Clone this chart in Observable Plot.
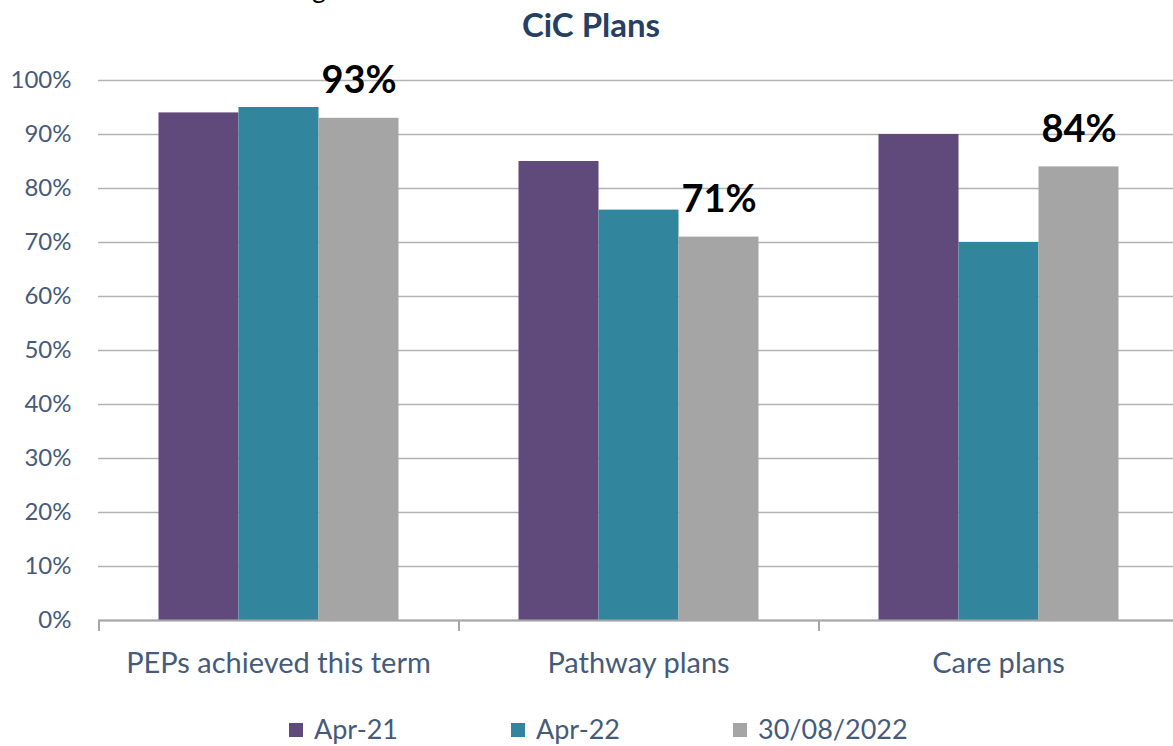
<!DOCTYPE html>
<html>
<head>
<meta charset="utf-8">
<script src="https://cdn.jsdelivr.net/npm/d3@7"></script>
<script src="https://cdn.jsdelivr.net/npm/@observablehq/plot@0.6"></script>
<style>
  html, body { margin: 0; padding: 0; background: #fff; }
  body { position: relative; width: 1173px; height: 746px; overflow: hidden; font-family: Lato, "Open Sans", sans-serif; }
  #frag { position: absolute; left: 312px; top: -26px; font-size: 27px; line-height: 27px; color: #000; }
  #title { position: relative; height: 48px; }
  #title span { position: absolute; left: 0; width: 1182px; text-align: center; font-size: 33px; line-height: 48px; font-weight: bold; color: #263F62; }
  #legend { position: relative; height: 42px; padding-top: 4px; }
  .item { position: absolute; top: 4px; height: 42px; line-height: 42px; font-size: 27px; color: #465B7A; white-space: nowrap; }
  .sw { position: absolute; left: 0; top: 15px; width: 14px; height: 14px; }
  .lab { position: absolute; left: 25px; top: 0; }
</style>
</head>
<body>
<div id="title"><span>CiC Plans</span></div>
<div id="chart"></div>
<div id="legend"></div>
<div id="frag">g</div>
<script>
const categories = ["PEPs achieved this term", "Pathway plans", "Care plans"];
const series = ["Apr-21", "Apr-22", "30/08/2022"];
const apr21 = [0.94, 0.85, 0.90];
const apr22 = [0.95, 0.76, 0.70];
const aug22 = [0.93, 0.71, 0.84];
const colors = ["#604A7B", "#31859C", "#A5A5A5"];
const yTicks = [0, 0.1, 0.2, 0.3, 0.4, 0.5, 0.6, 0.7, 0.8, 0.9, 1.0];
const labelledSeries = "30/08/2022";

const valuesBySeries = [apr21, apr22, aug22];
const data = [];
categories.forEach((c, ci) => {
  series.forEach((s, si) => {
    data.push({category: c, series: s, value: valuesBySeries[si][ci]});
  });
});

const pct = d3.format(".0%");

const chart = Plot.plot({
  width: 1173,
  height: 656,
  marginTop: 32,
  marginBottom: 84,
  marginLeft: 97.5,
  marginRight: -6,
  style: {fontFamily: "Lato, 'Open Sans', sans-serif", background: "white", overflow: "hidden"},
  fx: {domain: categories, padding: 0},
  x: {domain: series, paddingInner: 0, paddingOuter: 0.75, axis: null},
  y: {domain: [0, 1]},
  color: {domain: series, range: colors},
  marks: [
    Plot.gridY(yTicks, {stroke: "#B3B3B3", strokeOpacity: 1, strokeWidth: 1.5}),
    Plot.barY(data, {fx: "category", x: "series", y: "value", fill: "series"}),
    Plot.ruleY([0], {stroke: "#A6A6A6", strokeWidth: 2}),
    Plot.ruleX(categories, {fx: d => d, x: () => series[0], dx: -100, y1: 0, insetBottom: -11, stroke: "#A6A6A6", strokeWidth: 2}),
    Plot.text(data.filter(d => d.series === labelledSeries), {
      fx: "category", x: "series", y: "value", text: d => pct(d.value),
      lineAnchor: "bottom", dy: -25, fontSize: 38, fontWeight: "bold", fill: "black"
    }),
    Plot.axisY(yTicks, {tickFormat: pct, tickSize: 0, tickPadding: 27, fontSize: 24, fill: "#465B7A", label: null}),
    Plot.axisFx({anchor: "bottom", tickSize: 0, tickPadding: 32, fontSize: 29, fill: "#465B7A", label: null})
  ]
});
document.getElementById("chart").appendChild(chart);

const legend = document.getElementById("legend");
series.forEach((s, i) => {
  const item = document.createElement("div");
  item.className = "item";
  item.style.left = (289 + i * 222) + "px";
  const sw = document.createElement("div");
  sw.className = "sw";
  sw.style.background = colors[i];
  const lab = document.createElement("span");
  lab.className = "lab";
  lab.textContent = s;
  item.appendChild(sw);
  item.appendChild(lab);
  legend.appendChild(item);
});
</script>
</body>
</html>
